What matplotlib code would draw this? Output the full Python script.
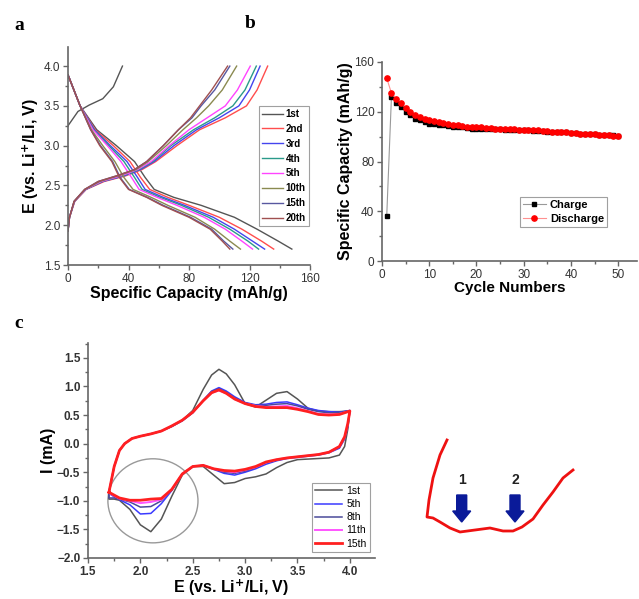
import numpy as np
import matplotlib
matplotlib.use("Agg")
import matplotlib.pyplot as plt
from matplotlib.patches import Ellipse, FancyArrow
from matplotlib.ticker import MultipleLocator

plt.rcParams["font.family"] = ["Liberation Sans", "DejaVu Sans"]

# ---- panel a: charge/discharge profiles ----
cycle_labels = ["1st", "2nd", "3rd", "4th", "5th", "10th", "15th", "20th"]
cycle_colors = ["#555555", "#ff4d4d", "#4444ee", "#2a9a8a", "#ff44ff", "#8a8a50", "#5858a0", "#a05050"]

first_charge_v = [3.25, 3.43, 3.51, 3.59, 3.74, 4.0]
first_charge_cap = [0, 6.6, 14, 23, 30, 36]

charge_v = [1.93, 2.1, 2.3, 2.45, 2.55, 2.62, 2.7, 2.8, 3.0, 3.2, 3.35, 3.5, 3.7, 4.0]
charge_cap = {
    "2nd": [0, 1, 4.5, 12, 24, 38, 49, 58, 72, 87, 104, 118, 125, 132],
    "3rd": [0, 1, 4.3, 11.8, 23, 37, 48, 57, 70, 85, 100, 113, 120, 127],
    "4th": [0, 1, 4.2, 11.6, 22.5, 36, 47, 56, 68, 83, 97, 109, 117, 124.5],
    "5th": [0, 1, 4.2, 11.5, 22, 35, 46, 55, 67, 80, 92, 104, 112, 120.5],
    "10th": [0, 1, 4.1, 11.3, 21, 33, 45, 53, 65, 76, 85, 93, 102, 111.5],
    "15th": [0, 1, 4, 11, 20, 32, 44, 52, 63, 73, 82, 88, 97, 107],
    "20th": [0, 1, 4, 11, 20, 32, 44, 52, 63, 73, 81, 87, 95, 105.5],
}

discharge_v = [3.89, 3.5, 3.2, 3.0, 2.8, 2.6, 2.45, 2.35, 2.25, 2.1, 1.95, 1.8, 1.7]
discharge_cap = {
    "1st": [0, 8, 19, 32, 44, 51, 57, 70, 88, 110, 125, 139, 148],
    "2nd": [0, 8, 18, 30, 41, 48, 54, 66, 80, 100, 115, 128, 136],
    "3rd": [0, 8, 17.5, 28, 39, 46, 51, 63, 77, 96, 110, 122, 130],
    "4th": [0, 8, 17, 27, 37, 44, 49, 61, 75, 93, 107, 119, 126],
    "5th": [0, 8, 16.5, 26, 35, 42, 47, 59, 72, 90, 104, 115, 122],
    "10th": [0, 8, 15.5, 23, 31, 37, 43, 55, 66, 84, 97, 107, 114],
    "15th": [0, 8, 15, 21.5, 29.5, 34.5, 40.5, 52.5, 63, 81, 95, 103, 109],
    "20th": [0, 8, 15, 21, 29, 34, 40, 52, 62, 80, 94, 102, 107],
}

# ---- panel b: cycling ----
cycles = np.arange(1, 51)
charge_q = [36, 132, 127, 123.5, 120, 117, 114.5, 113, 111.5, 110.5, 110, 109.5, 109, 108.5, 108,
            107.5, 107.5, 107, 106.5, 106.5, 106.5, 106.5, 106, 106, 106, 105.5, 105.5, 105.5, 105, 105,
            105, 104.5, 104.5, 104.5, 104, 104, 103.5, 103.5, 103.5, 103, 103, 102.5, 102.5, 102, 102,
            101.5, 101.5, 101.5, 101, 100.5]
discharge_q = [147, 135, 130, 127, 123, 120, 117.5, 116, 114.5, 113.5, 112.5, 111.5, 111, 110, 109.5,
               109, 108.5, 108, 108, 107.5, 107.5, 107, 107, 106.5, 106.5, 106.5, 106, 106, 105.5, 105.5,
               105, 105, 105, 104.5, 104.5, 104, 104, 103.5, 104, 103, 103, 102.5, 102.5, 102, 102,
               101.5, 101.5, 101.5, 100.5, 100.5]

# ---- panel c: cyclic voltammetry ----
cv_labels = ["1st", "5th", "8th", "11th", "15th"]
cv_colors = ["#555555", "#3a3aff", "#4a4a9a", "#ff55ff", "#ff2020"]
cv_widths = [1.1, 1.1, 1.1, 1.4, 2.0]
E_up = [1.70, 1.75, 1.80, 1.85, 1.92, 2.0, 2.1, 2.2, 2.3, 2.4, 2.5, 2.6, 2.68, 2.75, 2.82, 2.9,
        3.0, 3.1, 3.2, 3.3, 3.4, 3.5, 3.6, 3.7, 3.8, 3.9, 4.0]
E_down = [4.0, 3.98, 3.95, 3.9, 3.8, 3.7, 3.6, 3.5, 3.4, 3.3, 3.2, 3.1, 3.0, 2.9, 2.8, 2.7, 2.6,
          2.5, 2.4, 2.3, 2.2, 2.1, 2.0, 1.9, 1.8, 1.75, 1.7]
I_up = {
    "1st": [-0.85, -0.40, -0.12, 0.0, 0.09, 0.13, 0.17, 0.22, 0.31, 0.41, 0.58, 0.95, 1.20, 1.30, 1.22,
            1.03, 0.70, 0.64, 0.76, 0.88, 0.91, 0.78, 0.62, 0.57, 0.56, 0.56, 0.57],
    "5th": [-0.85, -0.40, -0.12, 0.0, 0.09, 0.13, 0.17, 0.22, 0.30, 0.40, 0.54, 0.76, 0.92, 0.98, 0.92,
            0.82, 0.72, 0.68, 0.69, 0.72, 0.73, 0.68, 0.62, 0.58, 0.56, 0.55, 0.58],
    "8th": [-0.85, -0.40, -0.12, 0.0, 0.09, 0.13, 0.17, 0.22, 0.30, 0.40, 0.54, 0.75, 0.91, 0.96, 0.90,
            0.80, 0.71, 0.67, 0.67, 0.69, 0.70, 0.66, 0.60, 0.56, 0.54, 0.54, 0.58],
    "11th": [-0.85, -0.40, -0.12, 0.0, 0.09, 0.13, 0.17, 0.22, 0.31, 0.41, 0.55, 0.75, 0.89, 0.93, 0.88,
             0.78, 0.70, 0.66, 0.64, 0.65, 0.66, 0.62, 0.57, 0.52, 0.51, 0.52, 0.57],
    "15th": [-0.85, -0.40, -0.12, 0.0, 0.09, 0.13, 0.17, 0.22, 0.31, 0.41, 0.55, 0.75, 0.89, 0.94, 0.88,
             0.78, 0.70, 0.65, 0.63, 0.63, 0.63, 0.60, 0.56, 0.51, 0.50, 0.51, 0.57],
}
I_down = {
    "1st": [0.57, 0.25, -0.05, -0.20, -0.25, -0.26, -0.27, -0.28, -0.33, -0.42, -0.53, -0.58, -0.61, -0.68,
            -0.70, -0.55, -0.40, -0.40, -0.55, -0.92, -1.32, -1.54, -1.42, -1.15, -0.99, -0.97, -0.97],
    "5th": [0.58, 0.30, 0.08, -0.08, -0.16, -0.20, -0.22, -0.24, -0.26, -0.30, -0.36, -0.44, -0.50, -0.55,
            -0.52, -0.45, -0.38, -0.40, -0.53, -0.82, -1.05, -1.22, -1.23, -1.07, -0.98, -0.93, -0.87],
    "8th": [0.58, 0.32, 0.10, -0.06, -0.15, -0.19, -0.21, -0.23, -0.25, -0.29, -0.34, -0.42, -0.48, -0.52,
            -0.50, -0.44, -0.38, -0.40, -0.53, -0.81, -1.00, -1.10, -1.11, -1.02, -0.97, -0.95, -0.95],
    "11th": [0.57, 0.34, 0.11, -0.05, -0.15, -0.19, -0.21, -0.23, -0.25, -0.28, -0.33, -0.41, -0.46, -0.50,
             -0.48, -0.44, -0.38, -0.40, -0.53, -0.80, -0.98, -1.02, -1.04, -1.00, -0.96, -0.91, -0.86],
    "15th": [0.57, 0.35, 0.12, -0.05, -0.15, -0.19, -0.21, -0.23, -0.25, -0.28, -0.32, -0.40, -0.45, -0.48,
             -0.47, -0.44, -0.38, -0.40, -0.53, -0.80, -0.96, -0.97, -0.99, -0.99, -0.95, -0.90, -0.85],
}

# hand-drawn sketch (figure pixels)
sketch_x = [447, 440, 433, 429, 427, 433, 440, 450, 460, 475, 490, 503, 513, 522, 533, 543, 553, 563, 573]
sketch_y = [440, 455, 478, 500, 517, 518, 522, 528, 532, 530, 528, 531, 531, 527, 519, 505, 492, 478, 470]
arrow_x = [461.7, 515]
arrow_labels = ["1", "2"]

fig = plt.figure(figsize=(6.39, 5.99), dpi=100)

spine_col = "#666666"
tick_col = "#333333"
lab_fs = 11.5


def style(ax, fs=8.5, weight="normal"):
    for s in ["top", "right"]:
        ax.spines[s].set_visible(False)
    for s in ["left", "bottom"]:
        ax.spines[s].set_color(spine_col)
        ax.spines[s].set_linewidth(1.2)
    ax.tick_params(which="both", direction="out", color=spine_col, labelcolor=tick_col,
                   labelsize=fs, width=1, pad=2)
    ax.tick_params(which="major", length=3.5)
    ax.tick_params(which="minor", length=2)
    for lab in ax.get_xticklabels() + ax.get_yticklabels():
        lab.set_fontweight(weight)


# panel a
axa = fig.add_axes([68 / 639, 1 - 265 / 599, 242 / 639, 218 / 599])
axa.plot(first_charge_cap, first_charge_v, color=cycle_colors[0], lw=1.0)
for lab, col in zip(cycle_labels, cycle_colors):
    axa.plot(discharge_cap[lab], discharge_v, color=col, lw=1.0, label=lab)
    if lab in charge_cap:
        axa.plot(charge_cap[lab], charge_v, color=col, lw=1.0)
axa.set_xlim(0, 160)
axa.set_ylim(1.5, 4.24)
axa.xaxis.set_major_locator(MultipleLocator(40))
axa.xaxis.set_minor_locator(MultipleLocator(20))
axa.yaxis.set_minor_locator(MultipleLocator(0.25))
axa.set_yticks([1.5, 2.0, 2.5, 3.0, 3.5, 4.0])
style(axa)
axa.set_xlabel("Specific Capacity (mAh/g)", fontsize=lab_fs, fontweight="bold", labelpad=1)
axa.set_ylabel("E (vs. Li$^{\\mathbf{+}}$/Li, V)", fontsize=lab_fs, fontweight="bold", labelpad=2)
leg = axa.legend(loc="upper left", bbox_to_anchor=(0.789, 0.729), borderaxespad=0,
                 prop={"weight": "bold", "size": 7}, handlelength=2.2, handletextpad=0.25,
                 labelspacing=0.5, fancybox=False, edgecolor="#888888", borderpad=0.3)
leg.get_frame().set_linewidth(0.8)

# panel b
axb = fig.add_axes([382 / 639, 1 - 261 / 599, 255 / 639, 199 / 599])
axb.plot(cycles, charge_q, color="#999999", lw=0.8, marker="s", ms=3.4, mfc="black", mec="black",
         label="Charge")
axb.plot(cycles, discharge_q, color="#ff9090", lw=0.8, marker="o", ms=3.8, mfc="red", mec="red",
         label="Discharge")
axb.set_xlim(0, 54)
axb.set_ylim(0, 160)
axb.xaxis.set_minor_locator(MultipleLocator(5))
axb.set_xticks([0, 10, 20, 30, 40, 50])
axb.yaxis.set_major_locator(MultipleLocator(40))
axb.yaxis.set_minor_locator(MultipleLocator(20))
style(axb)
axb.set_xlabel("Cycle Numbers", fontsize=11, fontweight="bold", labelpad=0)
axb.set_ylabel("Specific Capacity (mAh/g)", fontsize=lab_fs, fontweight="bold", labelpad=1)
leg = axb.legend(loc="upper left", bbox_to_anchor=(0.541, 0.322), borderaxespad=0,
                 prop={"weight": "bold", "size": 8}, handlelength=2.0, handletextpad=0.4,
                 labelspacing=0.3, fancybox=False, edgecolor="#888888", borderpad=0.3)
leg.get_frame().set_linewidth(0.8)

# panel c
axc = fig.add_axes([88 / 639, 1 - 558 / 599, 287 / 639, 215 / 599])
for lab, col, lw in zip(cv_labels, cv_colors, cv_widths):
    E = np.r_[E_up, E_down, E_up[:1]]
    I = np.r_[I_up[lab], I_down[lab], I_up[lab][:1]]
    axc.plot(E, I, color=col, lw=lw, label=lab)
axc.add_patch(Ellipse((2.12, -1.0), 0.86, 1.47, fill=False, ec="#999999", lw=1.0))
axc.set_xlim(1.5, 4.24)
axc.set_ylim(-2.0, 1.76)
axc.set_xticks([1.5, 2.0, 2.5, 3.0, 3.5, 4.0])
axc.xaxis.set_minor_locator(MultipleLocator(0.25))
axc.set_yticks([-2.0, -1.5, -1.0, -0.5, 0.0, 0.5, 1.0, 1.5])
axc.yaxis.set_minor_locator(MultipleLocator(0.25))
style(axc, fs=8.5, weight="bold")
axc.set_xlabel("E (vs. Li$^{\\mathbf{+}}$/Li, V)", fontsize=lab_fs, fontweight="bold", labelpad=0)
axc.set_ylabel("I (mA)", fontsize=lab_fs, fontweight="bold", labelpad=1)
leg = axc.legend(loc="upper left", bbox_to_anchor=(0.78, 0.349), borderaxespad=0,
                 prop={"size": 7.5}, handlelength=2.6, handletextpad=0.4,
                 labelspacing=0.3, fancybox=False, edgecolor="#888888", borderpad=0.3)
leg.get_frame().set_linewidth(0.8)

# overlay axes for panel letters and sketch
axo = fig.add_axes([0, 0, 1, 1], zorder=-1)
axo.set_xlim(0, 639)
axo.set_ylim(599, 0)
axo.axis("off")
for t, x, y in [("a", 14, 25), ("b", 245, 23), ("c", 14, 324)]:
    axo.text(x, y, t, fontsize=14, fontweight="bold", family="Liberation Serif", va="center")
axo.plot(sketch_x, sketch_y, color="#ee1111", lw=2)
for x, t in zip(arrow_x, arrow_labels):
    axo.add_patch(FancyArrow(x, 495, 0, 27, width=10, head_width=18, head_length=11,
                             length_includes_head=True, color="#0a1a99"))
    axo.text(x, 480, t, ha="center", va="center", fontsize=10, fontweight="bold", color="#222222")

fig.savefig("out.png", dpi=100)
